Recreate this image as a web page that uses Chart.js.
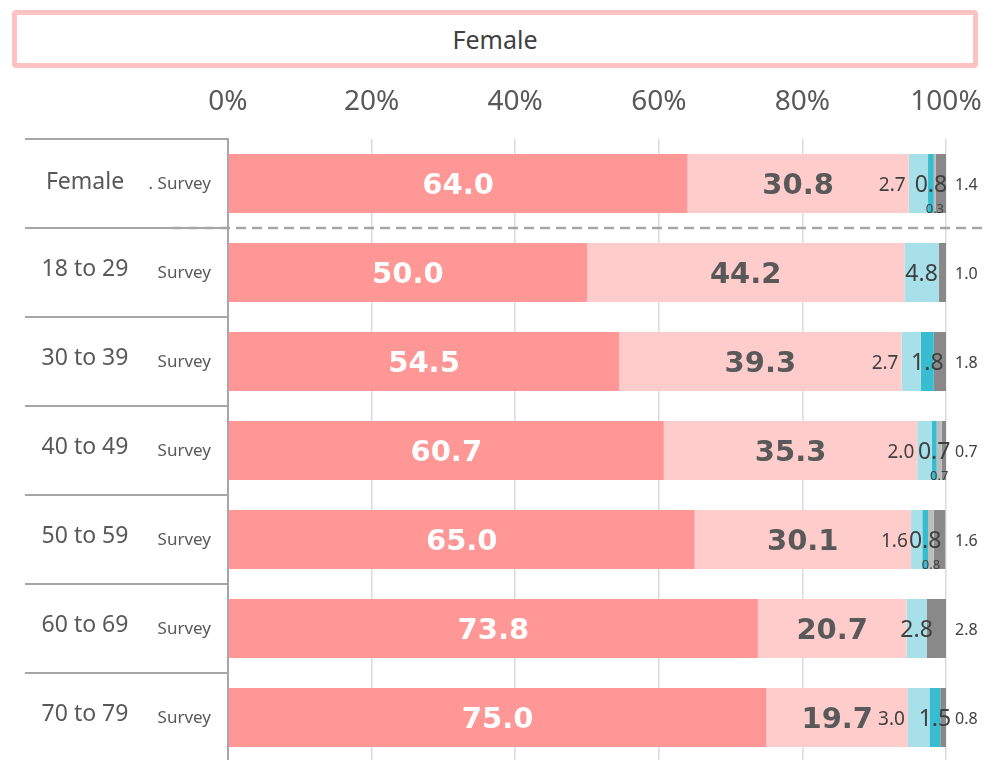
<!DOCTYPE html>
<html>
<head>
<meta charset="utf-8">
<title>Female</title>
<script src="https://cdn.jsdelivr.net/npm/chart.js@4.4.1/dist/chart.umd.min.js"></script>
<style>
  html, body { margin:0; padding:0; background:#fff; overflow:hidden; }
  #wrap { position:relative; width:986px; height:762px; }
  #title {
    position:absolute; left:12px; top:10px; width:956px; height:48px;
    border:5px solid #FFC2C2; border-radius:4px; background:#fff;
    font:25px "Noto Sans", sans-serif; color:#404040;
    text-align:center; line-height:48px;
  }
  canvas { position:absolute; left:0; top:0; }
</style>
</head>
<body>
<div id="wrap">
  <div id="title">Female</div>
  <canvas id="chart" width="986" height="762"></canvas>
</div>
<script>
/* ---------- data ---------- */
const groups    = ['Female', '18 to 29', '30 to 39', '40 to 49', '50 to 59', '60 to 69', '70 to 79'];
const subLabels = ['. Survey', 'Survey', 'Survey', 'Survey', 'Survey', 'Survey', 'Survey'];
const xTicks    = [0, 20, 40, 60, 80, 100];

const s1 = [64.0, 50.0, 54.5, 60.7, 65.0, 73.8, 75.0];
const s2 = [30.8, 44.2, 39.3, 35.3, 30.1, 20.7, 19.7];
const s3 = [2.7, 4.8, 2.7, 2.0, 1.6, 2.8, 3.0];
const s4 = [0.8, 0, 1.8, 0.7, 0.8, 0, 1.5];
const s5 = [0.3, 0, 0, 0.7, 0.8, 0, 0];
const s6 = [1.4, 1.0, 1.8, 0.7, 1.6, 2.8, 0.8];

const series = [s1, s2, s3, s4, s5, s6];
const colors = ['#FF9797', '#FFCCCC', '#A7E0E8', '#38BCCF', '#BDBDBD', '#898989'];

const GRAY = '#A6A6A6';
const TXT = '#404040';

/* ---------- value labels ---------- */
const valueLabels = {
  id: 'valueLabels',
  afterDraw(chart) {
    const ctx = chart.ctx;
    const area = chart.chartArea;
    ctx.save();
    ctx.textBaseline = 'middle';
    series.forEach((data, d) => {
      const meta = chart.getDatasetMeta(d);
      meta.data.forEach((bar, i) => {
        const v = data[i];
        if (!v) return;
        const p = bar.getProps(['x', 'y', 'base', 'height'], true);
        const x0 = Math.min(p.x, p.base), x1 = Math.max(p.x, p.base);
        const cx = (x0 + x1) / 2;
        const txt = v.toFixed(1);
        if (d === 0 || d === 1) {
          ctx.font = 'bold 29px "DejaVu Sans"';
          ctx.fillStyle = d === 0 ? '#fff' : '#595959';
          ctx.textAlign = 'center';
          ctx.fillText(txt, cx, p.y + 3);
        } else if (d === 2) {
          ctx.fillStyle = TXT;
          if (!s4[i]) {
            ctx.font = '23px "Noto Sans"';
            ctx.textAlign = 'center';
            ctx.fillText(txt, cx, p.y + 2);
          } else {
            ctx.font = '19px "Noto Sans"';
            ctx.textAlign = 'right';
            ctx.fillText(txt, x0 - 3, p.y + 2);
          }
        } else if (d === 3) {
          ctx.font = '23px "Noto Sans"';
          ctx.fillStyle = TXT;
          ctx.textAlign = 'center';
          ctx.fillText(txt, cx, p.y + 2);
        } else if (d === 4) {
          ctx.font = '13px "Noto Sans"';
          ctx.fillStyle = TXT;
          ctx.textAlign = 'center';
          ctx.fillText(txt, cx, p.y + p.height / 2 - 4);
        } else {
          ctx.font = '16px "Noto Sans"';
          ctx.fillStyle = TXT;
          ctx.textAlign = 'left';
          ctx.fillText(txt, area.right + 9, p.y + 2);
        }
      });
    });
    ctx.restore();
  }
};

/* ---------- row labels, separators ---------- */
const rowDecor = {
  id: 'rowDecor',
  afterDraw(chart) {
    const ctx = chart.ctx;
    const area = chart.chartArea;
    const ys = chart.scales.y;
    const step = (area.bottom - area.top) / groups.length;
    ctx.save();
    ctx.strokeStyle = GRAY;
    ctx.lineWidth = 2;
    for (let i = 0; i <= groups.length; i++) {
      const y = Math.round(area.top + i * step);
      ctx.beginPath();
      ctx.moveTo(25, y);
      ctx.lineTo(area.left, y);
      ctx.stroke();
    }
    // dashed line after the total row
    const yd = Math.round(area.top + step);
    ctx.setLineDash([10, 6]);
    ctx.lineWidth = 2.5;
    ctx.beginPath();
    ctx.moveTo(172, yd);
    ctx.lineTo(985, yd);
    ctx.stroke();
    ctx.setLineDash([]);

    ctx.textBaseline = 'middle';
    groups.forEach((g, i) => {
      const y = ys.getPixelForValue(i);
      ctx.fillStyle = '#595959';
      ctx.font = '23px "Noto Sans"';
      ctx.textAlign = 'center';
      ctx.fillText(g, 85, i === 0 ? y - 1 : y - 3);
      ctx.font = '17px "Noto Sans"';
      ctx.textAlign = 'right';
      ctx.fillText(subLabels[i], 211, y + 1);
    });
    ctx.restore();
  }
};

new Chart(document.getElementById('chart'), {
  type: 'bar',
  data: {
    labels: groups,
    datasets: series.map((d, k) => ({
      data: d,
      backgroundColor: colors[k],
      borderWidth: 0,
      barPercentage: 0.663,
      categoryPercentage: 1
    }))
  },
  options: {
    indexAxis: 'y',
    responsive: false,
    animation: false,
    devicePixelRatio: 1,
    layout: { padding: { left: 228, right: 40, top: 80, bottom: 0 } },
    plugins: { legend: { display: false }, tooltip: { enabled: false } },
    scales: {
      x: {
        position: 'top',
        stacked: true,
        min: 0, max: 100,
        z: 1,
        afterBuildTicks: s => { s.ticks = xTicks.map(v => ({ value: v })); },
        afterFit: s => { s.height = 59; s.paddingLeft = 0; s.paddingRight = 0; },
        ticks: {
          callback: v => v + '%',
          color: '#595959',
          font: { family: 'Noto Sans', size: 28 },
          padding: 20,
          maxRotation: 0
        },
        grid: {
          drawTicks: false,
          lineWidth: 1.5,
          color: c => c.index === 0 ? 'rgba(0,0,0,0)' : 'rgba(0,0,0,0.14)'
        },
        border: { display: false }
      },
      y: {
        stacked: true,
        afterFit: s => { s.width = 0; },
        ticks: { display: false },
        grid: { display: false, drawTicks: false },
        border: { display: true, color: GRAY, width: 2 }
      }
    }
  },
  plugins: [valueLabels, rowDecor]
});
</script>
</body>
</html>
